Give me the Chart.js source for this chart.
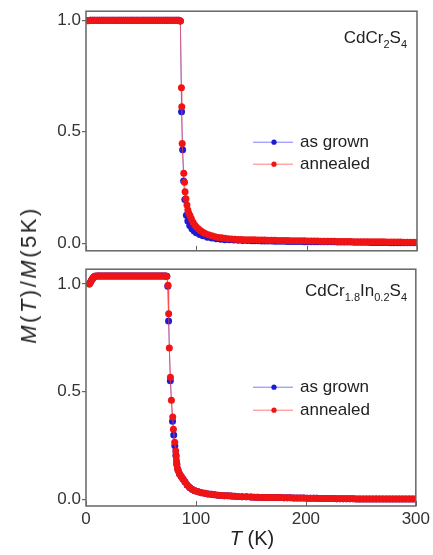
<!DOCTYPE html>
<html>
<head>
<meta charset="utf-8">
<script src="https://cdn.jsdelivr.net/npm/chart.js@4.4.0/dist/chart.umd.min.js"></script>
<style>
  html,body{margin:0;padding:0;background:#fff;}
  body{width:433px;height:555px;position:relative;overflow:hidden;font-family:"Liberation Sans",Arial,sans-serif;color:#222;}
  canvas{position:absolute;left:0;}
  .lbl{position:absolute;white-space:nowrap;font-size:17px;line-height:17px;color:#222;}
  .lbl span{font-size:11px;vertical-align:-5px;line-height:11px;}
  #ytitle{position:absolute;left:29px;top:275px;transform:translate(-50%,-50%) rotate(-90deg);font-size:22px;letter-spacing:2.5px;white-space:nowrap;color:#222;}
  #xtitle{position:absolute;left:252px;top:538px;transform:translate(-50%,-50%);font-size:20px;white-space:nowrap;color:#222;}
</style>
</head>
<body>
<canvas id="top" width="433" height="262" style="top:0px"></canvas>
<canvas id="bot" width="433" height="297" style="top:258px"></canvas>
<div class="lbl" style="right:26px;top:29px">CdCr<span>2</span>S<span>4</span></div>
<div class="lbl" style="right:26px;top:282px">CdCr<span>1.8</span>In<span>0.2</span>S<span>4</span></div>
<div id="ytitle"><i>M</i>(<i>T</i>)/<i>M</i>(5K)</div>
<div id="xtitle"><i>T</i> (K)</div>
<script>
// ---------- data ----------
const seriesNames = ["as grown", "annealed"];
const xTicks = [0, 100, 200, 300];
const yTicks = [0, 0.5, 1.0];

// CdCr2S4 - as grown
const tTopGrown = [2,4,6,8,10,12,14,16,18,20,22,24,26,28,30,32,34,36,38,40,42,44,46,48,50,52,54,56,58,60,62,64,66,68,70,72,74,76,78,80,82,84,85.5,
  86.6,87.6,88.5,89.6,91.0,92.3,94,96,98,100,103,106,110,114,118,122,126,130,134,138,142,146,
  150,153,156,159,162,165,168,171,174,177,180,183,186,189,192,195,198,201,204,207,210,213,216,219,222,225,228,231,234,237,240,243,246,249,252,255,258,261,264,267,270,273,276,279,282,285,288,291,294,297,300];
const mTopGrown = [0.998,0.999,1,1,1,1,1,1,1,1,1,1,1,1,1,1,1,1,1,1,1,1,1,1,1,1,1,1,1,1,1,1,1,1,1,1,1,1,1,1,1,1,0.996,
  0.590,0.420,0.280,0.197,0.126,0.100,0.080,0.066,0.056,0.048,0.040,0.034,0.028,0.024,0.021,0.019,0.017,0.016,0.015,0.014,0.013,0.013,
  0.012,0.012,0.012,0.011,0.011,0.011,0.011,0.010,0.010,0.010,0.010,0.009,0.009,0.009,0.009,0.009,0.008,0.008,0.008,0.008,0.008,0.007,0.007,0.007,0.007,0.007,0.006,0.006,0.006,0.006,0.006,0.005,0.005,0.005,0.005,0.005,0.004,0.004,0.004,0.004,0.004,0.004,0.003,0.003,0.003,0.003,0.003,0.003,0.003,0.003,0.003];

// CdCr2S4 - annealed
const tTopAnn = [2,4,6,8,10,12,14,16,18,20,22,24,26,28,30,32,34,36,38,40,42,44,46,48,50,52,54,56,58,60,62,64,66,68,70,72,74,76,78,80,82,84,85.5,
  86.5,86.8,87.2,88.6,89.3,89.8,90.6,91.5,92.3,93.2,94.3,95.5,97,98.5,100,102,104,106,108,111,114,117,120,123,126,129,132,135,138,141,144,147,
  150,153,156,159,162,165,168,171,174,177,180,183,186,189,192,195,198,201,204,207,210,213,216,219,222,225,228,231,234,237,240,243,246,249,252,255,258,261,264,267,270,273,276,279,282,285,288,291,294,297,300];
const mTopAnn = [0.997,0.999,1,1,1,1,1,1,1,1,1,1,1,1,1,1,1,1,1,1,1,1,1,1,1,1,1,1,1,1,1,1,1,1,1,1,1,1,1,1,1,1,0.996,
  0.697,0.612,0.448,0.314,0.274,0.232,0.200,0.172,0.150,0.135,0.124,0.110,0.095,0.083,0.074,0.065,0.057,0.050,0.045,0.039,0.034,0.030,0.027,0.025,0.023,0.021,0.020,0.019,0.018,0.018,0.017,0.017,
  0.016,0.016,0.015,0.015,0.015,0.014,0.014,0.014,0.013,0.013,0.013,0.013,0.012,0.012,0.012,0.012,0.012,0.011,0.011,0.011,0.011,0.010,0.010,0.010,0.010,0.010,0.009,0.009,0.009,0.009,0.009,0.008,0.008,0.008,0.008,0.008,0.007,0.007,0.007,0.007,0.007,0.006,0.006,0.006,0.006,0.006,0.005,0.005,0.005,0.005,0.005];

// CdCr1.8In0.2S4 - as grown
const tBotGrown = [3,4,5,6,7,8,10,12,14,16,18,20,22,24,26,28,30,32,34,36,38,40,42,44,46,48,50,52,54,56,58,60,62,64,66,68,70,72,73.5,
  74.4,75.1,76.7,78.7,79.8,80.8,81.8,82.6,83.6,85.0,86.5,88.2,90,92,94.3,96.5,99,102,105,108,111,114,117,120,123,126,129,132,135,138,142,146,
  150,153,156,159,162,165,168,171,174,177,180,183,186,189,192,195,198,201,204,207,210,213,216,219,222,225,228,231,234,237,240,243,246,249,252,255,258,261,264,267,270,273,276,279,282,285,288,291,294,297,300];
const mBotGrown = [1.000,1.008,1.018,1.026,1.032,1.036,1.038,1.038,1.038,1.038,1.038,1.038,1.038,1.038,1.038,1.038,1.038,1.038,1.038,1.038,1.038,1.038,1.038,1.038,1.038,1.038,1.038,1.038,1.038,1.038,1.038,1.038,1.038,1.038,1.038,1.038,1.038,1.038,1.036,
  0.990,0.829,0.551,0.363,0.300,0.250,0.205,0.165,0.138,0.120,0.108,0.095,0.082,0.068,0.056,0.048,0.041,0.036,0.032,0.029,0.026,0.024,0.022,0.020,0.019,0.018,0.017,0.016,0.015,0.014,0.013,0.013,
  0.012,0.011,0.011,0.010,0.010,0.010,0.009,0.009,0.009,0.009,0.008,0.008,0.008,0.007,0.007,0.007,0.007,0.006,0.006,0.006,0.006,0.005,0.005,0.005,0.005,0.005,0.004,0.004,0.004,0.004,0.004,0.004,0.003,0.003,0.003,0.003,0.003,0.003,0.003,0.002,0.002,0.002,0.002,0.002,0.002,0.002,0.002,0.002,0.002,0.002,0.002];

// CdCr1.8In0.2S4 - annealed
const tBotAnn = [3,4,5,6,7,8,10,12,14,16,18,20,22,24,26,28,30,32,34,36,38,40,42,44,46,48,50,52,54,56,58,60,62,64,66,68,70,72,73.5,
  74.6,75.2,75.8,76.8,77.7,78.9,79.5,80.7,81.6,82.0,82.3,82.6,83.2,84.0,85.0,86.5,88.2,90,92,94.3,96.5,99,102,105,108,111,114,117,120,123,126,129,132,135,138,142,146,
  150,153,156,159,162,165,168,171,174,177,180,183,186,189,192,195,198,201,204,207,210,213,216,219,222,225,228,231,234,237,240,243,246,249,252,255,258,261,264,267,270,273,276,279,282,285,288,291,294,297,300];
const mBotAnn = [1.000,1.008,1.018,1.026,1.032,1.036,1.038,1.038,1.038,1.038,1.038,1.038,1.038,1.038,1.038,1.038,1.038,1.038,1.038,1.038,1.038,1.038,1.038,1.038,1.038,1.038,1.038,1.038,1.038,1.038,1.038,1.038,1.038,1.038,1.038,1.038,1.038,1.038,1.036,
  0.995,0.862,0.703,0.568,0.461,0.383,0.326,0.266,0.225,0.200,0.180,0.162,0.145,0.132,0.120,0.108,0.095,0.082,0.068,0.056,0.048,0.041,0.036,0.032,0.029,0.026,0.024,0.022,0.020,0.019,0.018,0.017,0.016,0.015,0.014,0.013,0.013,
  0.012,0.011,0.011,0.010,0.010,0.010,0.009,0.009,0.009,0.009,0.008,0.008,0.008,0.007,0.007,0.007,0.007,0.006,0.006,0.006,0.006,0.005,0.005,0.005,0.005,0.005,0.004,0.004,0.004,0.004,0.004,0.004,0.003,0.003,0.003,0.003,0.003,0.003,0.003,0.002,0.002,0.002,0.002,0.002,0.002,0.002,0.002,0.002,0.002,0.002,0.002];

// ---------- rendering ----------
const FONT = '"Liberation Sans", Arial, sans-serif';
const AXIS = '#666';
const BLUE = '#1c1cd8';
const RED = '#f01414';

function pts(t, m){ return t.map((v,i)=>({x:v, y:m[i]})); }

const framePlugin = {
  id: 'frame',
  afterDatasetsDraw(chart){
    const {ctx, chartArea:a, scales:{x}} = chart;
    ctx.save();
    ctx.strokeStyle = AXIS; ctx.lineWidth = 1.5;
    ctx.strokeRect(a.left, a.top, a.right - a.left, a.bottom - a.top);
    ctx.lineWidth = 1;
    x.ticks.forEach(t => {
      const px = Math.round(x.getPixelForValue(t.value)) + 0.5;
      ctx.beginPath(); ctx.moveTo(px, a.bottom); ctx.lineTo(px, a.bottom - 5); ctx.stroke();
    });
    ctx.restore();
  }
};

const legendPlugin = {
  id: 'mylegend',
  afterDraw(chart, args, opts){
    const {ctx, chartArea:a} = chart;
    ctx.save();
    chart.data.datasets.forEach((ds, i) => {
      const y = a.top + opts.ys[i];
      const x0 = a.left + 167, x1 = a.left + 207, xm = a.left + 188;
      ctx.strokeStyle = ds.borderColor; ctx.lineWidth = 1;
      ctx.beginPath(); ctx.moveTo(x0, y); ctx.lineTo(x1, y); ctx.stroke();
      ctx.fillStyle = ds.pointBackgroundColor;
      ctx.beginPath(); ctx.arc(xm, y, 2.6, 0, Math.PI*2); ctx.fill();
      ctx.fillStyle = '#222';
      ctx.font = '17px ' + FONT;
      ctx.textBaseline = 'middle';
      ctx.textAlign = 'left';
      ctx.fillText(ds.label, a.left + 214, y);
    });
    ctx.restore();
  }
};

function makeChart(id, grownPts, annPts, ymin, ymax, showX, pad, xHeight, legendYs){
  return new Chart(document.getElementById(id), {
    type: 'scatter',
    data: {
      datasets: [
        { label: seriesNames[0], data: grownPts, showLine: true, borderColor: 'rgba(70,70,255,0.7)', borderWidth: 1,
          pointBackgroundColor: BLUE, pointBorderWidth: 0, pointRadius: 3.5, order: 1 },
        { label: seriesNames[1], data: annPts, showLine: true, borderColor: 'rgba(255,70,70,0.7)', borderWidth: 1,
          pointBackgroundColor: RED, pointBorderWidth: 0, pointRadius: 3.5, order: 0 }
      ]
    },
    options: {
      responsive: false, animation: false, devicePixelRatio: 1,
      layout: { padding: pad },
      plugins: { legend: { display: false }, tooltip: { enabled: false }, mylegend: { ys: legendYs } },
      scales: {
        x: {
          type: 'linear', min: 0, max: 300,
          afterBuildTicks: s => { s.ticks = xTicks.map(v => ({value: v})); },
          ticks: { display: showX, font: { size: 17, family: FONT }, color: '#333', padding: 3, callback: v => String(v) },
          grid: { display: false, drawTicks: false },
          border: { display: false },
          afterFit: s => { s.height = xHeight; }
        },
        y: {
          min: ymin, max: ymax,
          afterBuildTicks: s => { s.ticks = yTicks.map(v => ({value: v})); },
          ticks: { font: { size: 17, family: FONT }, color: '#333', padding: 1, callback: v => Number(v).toFixed(1) },
          grid: { display: true, drawOnChartArea: false, drawTicks: true, tickLength: 4, color: AXIS, lineWidth: 1.2 },
          border: { display: false },
          afterFit: s => { s.width = 86; }
        }
      }
    },
    plugins: [framePlugin, legendPlugin]
  });
}

makeChart('top', pts(tTopGrown, mTopGrown), pts(tTopAnn, mTopAnn), -0.033, 1.040, false,
  {top: 9, right: 16, bottom: 0, left: 0}, 6, [131, 153]);
makeChart('bot', pts(tBotGrown, mBotGrown), pts(tBotAnn, mBotAnn), -0.030, 1.069, true,
  {top: 4, right: 16, bottom: 0, left: 0}, 49, [118, 141]);
</script>
</body>
</html>
